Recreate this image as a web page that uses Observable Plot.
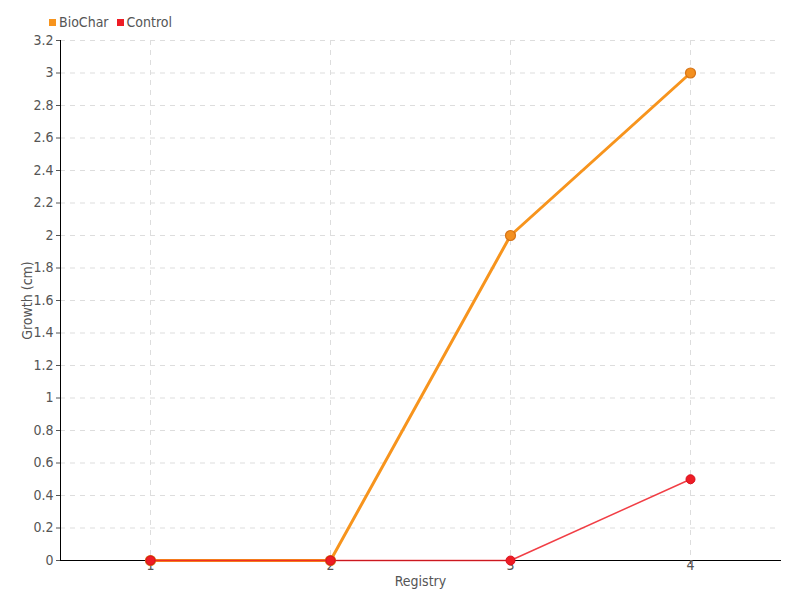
<!DOCTYPE html>
<html>
<head>
<meta charset="utf-8">
<script src="https://cdn.jsdelivr.net/npm/d3@7"></script>
<script src="https://cdn.jsdelivr.net/npm/@observablehq/plot@0.6"></script>
<style>
  body { margin: 0; background: #fff; }
  #wrap { position: relative; width: 800px; height: 600px; font-family: "Liberation Sans Narrow", "DejaVu Sans Condensed", sans-serif; }
  #legend { position: absolute; left: 49px; top: 14px; font-size: 14px; color: #555; display: flex; gap: 8px; align-items: center; }
  #legend span.item { display: flex; align-items: center; gap: 3px; }
  #legend span.sw { width: 7px; height: 7px; display: inline-block; }
</style>
</head>
<body>
<div id="wrap"><div id="legend"></div></div>
<script>
const registry = ["1", "2", "3", "4"];
const biochar = [0, 0, 2, 3];
const control = [0, 0, 0, 0.5];
const seriesNames = ["BioChar", "Control"];
const seriesColors = ["#f7941d", "#ee1c25"];
const yTicks = [0, 0.2, 0.4, 0.6, 0.8, 1, 1.2, 1.4, 1.6, 1.8, 2, 2.2, 2.4, 2.6, 2.8, 3, 3.2];

const bioData = registry.map((r, i) => ({x: r, y: biochar[i]}));
const ctrlData = registry.map((r, i) => ({x: r, y: control[i]}));

const font = '"Liberation Sans Narrow", "DejaVu Sans Condensed", sans-serif';

const chart = Plot.plot({
  width: 800,
  height: 600,
  marginLeft: 60,
  marginRight: 20,
  marginTop: 40,
  marginBottom: 40,
  style: {fontFamily: font, fontSize: "14px", color: "#555", background: "#fff"},
  x: {type: "point", domain: registry, padding: 0.5},
  y: {domain: [0, 3.2]},
  marks: [
    Plot.gridY(yTicks, {stroke: "#ddd", strokeOpacity: 1, strokeDasharray: "5,5"}),
    Plot.gridX(registry, {stroke: "#ddd", strokeOpacity: 1, strokeDasharray: "5,5"}),
    Plot.frame({anchor: "left", stroke: "#000"}),
    Plot.frame({anchor: "bottom", stroke: "#000"}),
    Plot.axisY(yTicks, {tickSize: 4, tickPadding: 3, tickFormat: d => String(d), label: "Growth (cm)", labelAnchor: "center", labelArrow: "none", labelOffset: 38, fill: "#555", fontSize: 14}),
    Plot.axisX(registry, {tickSize: 4, tickPadding: -4, label: "Registry", labelAnchor: "center", labelArrow: "none", labelOffset: 25, fill: "#555", fontSize: 14}),
    Plot.line(bioData, {x: "x", y: "y", stroke: seriesColors[0], strokeWidth: 3}),
    Plot.dot(bioData, {x: "x", y: "y", r: 5, fill: "#f39020", stroke: "#d67418", strokeWidth: 1.2}),
    Plot.line(ctrlData, {x: "x", y: "y", stroke: seriesColors[1], strokeWidth: 1.5, strokeOpacity: 0.85}),
    Plot.dot(ctrlData, {x: "x", y: "y", r: 4.5, fill: seriesColors[1], stroke: "#d8101c", strokeWidth: 1})
  ]
});
document.getElementById("wrap").appendChild(chart);

const legend = document.getElementById("legend");
seriesNames.forEach((n, i) => {
  const item = document.createElement("span");
  item.className = "item";
  const sw = document.createElement("span");
  sw.className = "sw";
  sw.style.background = seriesColors[i];
  item.appendChild(sw);
  item.appendChild(document.createTextNode(n));
  legend.appendChild(item);
});
</script>
</body>
</html>
